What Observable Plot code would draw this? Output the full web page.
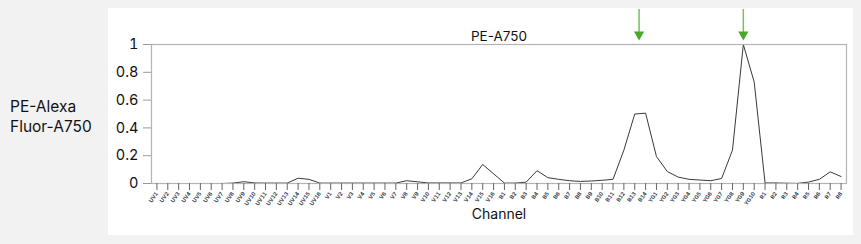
<!DOCTYPE html>
<html>
<head>
<meta charset="utf-8">
<script src="https://cdn.jsdelivr.net/npm/d3@7"></script>
<script src="https://cdn.jsdelivr.net/npm/@observablehq/plot@0.6"></script>
<style>
  html, body { margin: 0; padding: 0; background: #f2f2f2; }
  #wrap { position: relative; width: 861px; height: 244px; overflow: hidden; font-family: Inter, "Noto Sans", sans-serif; }
  #panel { position: absolute; left: 108px; top: 8px; width: 745px; height: 227px; background: #ffffff; }
  #ylabel { position: absolute; left: 10px; top: 97px; font-size: 15.5px; line-height: 20px; color: #111; }
  #chart { position: absolute; left: 0; top: 0; }
  #chart svg { background: transparent; }
</style>
</head>
<body>
<div id="wrap">
  <div id="panel"></div>
  <div id="ylabel">PE-Alexa<br>Fluor-A750</div>
  <div id="chart"></div>
</div>
<script>
const title = "PE-A750";
const xLabel = "Channel";

const channels = [
  "UV1","UV2","UV3","UV4","UV5","UV6","UV7","UV8","UV9","UV10","UV11","UV12","UV13","UV14","UV15","UV16",
  "V1","V2","V3","V4","V5","V6","V7","V8","V9","V10","V11","V12","V13","V14","V15","V16",
  "B1","B2","B3","B4","B5","B6","B7","B8","B9","B10","B11","B12","B13","B14",
  "YG1","YG2","YG3","YG4","YG5","YG6","YG7","YG8","YG9","YG10",
  "R1","R2","R3","R4","R5","R6","R7","R8"
];

const values = [
  0, 0, 0, 0, 0, 0, 0, 0.003, 0.013, 0.004, 0.003, 0.003, 0.003, 0.038, 0.030, 0.003,
  0.003, 0.003, 0.003, 0.003, 0.003, 0.003, 0.003, 0.020, 0.012, 0.004, 0.004, 0.004, 0.004, 0.034, 0.137, 0.070,
  0.003, 0.003, 0.010, 0.092, 0.042, 0.030, 0.020, 0.015, 0.018, 0.023, 0.030, 0.240, 0.500, 0.506,
  0.194, 0.086, 0.046, 0.030, 0.025, 0.020, 0.036, 0.240, 1.000, 0.730,
  0.004, 0.004, 0.002, 0.001, 0.010, 0.030, 0.084, 0.050
];

const yTicks = [0, 0.2, 0.4, 0.6, 0.8, 1];

// arrow positions, in channel-index units
const arrowPositions = [44.4, 54];

const data = channels.map((c, i) => ({i, channel: c, value: values[i]}));
const idx = channels.map((c, i) => i);

const lineShape = {
  draw(context, l) {
    context.moveTo(0, 0);
    context.lineTo(0, -l);
  }
};

const chart = Plot.plot({
  width: 861,
  height: 244,
  marginLeft: 151,
  marginRight: 15,
  marginTop: 44,
  marginBottom: 61,
  style: {fontFamily: "Inter, 'Noto Sans', sans-serif", background: "transparent", overflow: "visible"},
  x: {type: "linear", domain: [-0.5, channels.length - 0.5]},
  y: {domain: [0, 1]},
  marks: [
    Plot.lineY(data, {x: "i", y: "value", stroke: "#3a3a3a", strokeWidth: 1}),
    Plot.frame({stroke: "#b4b4b4", strokeWidth: 1.2}),
    Plot.axisY({
      ticks: yTicks, tickFormat: d => `${d}`, tickSize: 8, tickPadding: 5,
      fontSize: 14.5, stroke: "#9a9a9a", fill: "#111", label: null
    }),
    Plot.axisX({
      ticks: idx, tickFormat: i => channels[i], tickSize: 7, tickPadding: 2,
      tickRotate: -55, textAnchor: "end", fontSize: 5.5, fontWeight: "bold",
      stroke: "#666", fill: "#3b4656", label: null
    }),
    Plot.text([title], {frameAnchor: "top", dy: -13, text: d => d, fontSize: 13.5, fill: "#111"}),
    Plot.text([xLabel], {frameAnchor: "bottom", dy: 35, text: d => d, fontSize: 14, fill: "#111"}),
    Plot.vector(arrowPositions, {
      x: d => d, frameAnchor: "top", length: 27, rotate: 180, anchor: "end",
      dy: -8, shape: lineShape, stroke: "#78c060", strokeWidth: 1.5
    }),
    Plot.dot(arrowPositions, {
      x: d => d, frameAnchor: "top", dy: -10, symbol: "triangle", rotate: 180,
      r: 3.8, fill: "#4aa82a", stroke: "none"
    })
  ]
});

document.getElementById("chart").appendChild(chart);
</script>
</body>
</html>
